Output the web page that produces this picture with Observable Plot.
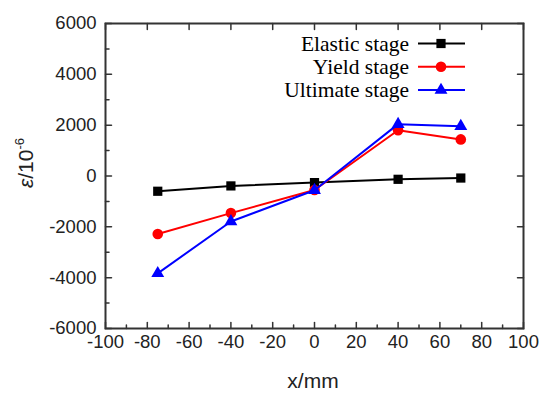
<!DOCTYPE html>
<html>
<head>
<meta charset="utf-8">
<script src="https://cdn.jsdelivr.net/npm/d3@7"></script>
<script src="https://cdn.jsdelivr.net/npm/@observablehq/plot@0.6"></script>
<style>
  html, body { margin: 0; padding: 0; background: #fff; }
  #chart { width: 550px; height: 396px; }
</style>
</head>
<body>
<div id="chart"></div>
<script>
// Data
const positions = [-75, -40, 0, 40, 70];
const elastic  = [-600, -390, -260, -130, -80];
const yieldS   = [-2280, -1460, -550, 1800, 1440];
const ultimate = [-3830, -1790, -560, 2040, 1960];
const seriesNames = ["Elastic stage", "Yield stage", "Ultimate stage"];
const seriesColors = ["#000000", "#ff0000", "#0000ff"];
const seriesSymbols = ["square", "circle", "triangle"];
const seriesRadius = [5.2, 5.3, 4.8];

const xMajor = d3.range(-100, 101, 20);
const xMinor = d3.range(-90, 100, 20);
const yMajor = d3.range(-6000, 6001, 2000);
const yMinor = d3.range(-5000, 6000, 2000);

const seriesValues = [elastic, yieldS, ultimate];
const rows = [];
seriesNames.forEach((name, i) => {
  positions.forEach((x, j) => rows.push({series: name, x, y: seriesValues[i][j]}));
});

const tickShape = {draw(context, l) { context.moveTo(0, 0); context.lineTo(0, -l); }};
const axisColor = "#333333";

function ticks(data, channel, anchor, rotate, length) {
  const opts = {frameAnchor: anchor, rotate, length, anchor: "start", shape: tickShape, stroke: axisColor, strokeWidth: 1.5};
  opts[channel] = d => d;
  return Plot.vector(data, opts);
}

const lineMarks = seriesNames.map((name, i) => {
  const data = rows.filter(r => r.series === name);
  return [
    Plot.line(data, {x: "x", y: "y", stroke: seriesColors[i], strokeWidth: 2}),
    Plot.dot(data, {x: "x", y: "y", symbol: seriesSymbols[i], r: seriesRadius[i], fill: seriesColors[i], stroke: "none"})
  ];
}).flat();

const plot = Plot.plot({
  width: 550,
  height: 396,
  marginLeft: 105,
  marginRight: 27,
  marginTop: 23,
  marginBottom: 68,
  style: {fontFamily: "'Liberation Sans', Arial, sans-serif", background: "#fff", overflow: "visible"},
  x: {domain: [-100, 100]},
  y: {domain: [-6000, 6000]},
  marks: [
    ...lineMarks,
    Plot.axisX(xMajor, {anchor: "bottom", tickSize: 0, tickPadding: 6, fontSize: 18.5, fill: "#222", label: null, tickFormat: d => String(d)}),
    Plot.axisY(yMajor, {anchor: "left", tickSize: 0, tickPadding: 9, fontSize: 18.5, fill: "#222", label: null, tickFormat: d => String(d)}),
    ticks(xMajor, "x", "bottom", 0, 6),
    ticks(xMinor, "x", "bottom", 0, 3.5),
    ticks(yMajor, "y", "left", 90, 6),
    ticks(yMinor, "y", "left", 90, 3.5),
    ticks(xMajor, "x", "top", 180, 6),
    ticks(yMajor, "y", "right", -90, 6),
    Plot.frame({stroke: axisColor, strokeWidth: 2})
  ]
});

document.getElementById("chart").appendChild(plot);

const svg = d3.select(plot);
// axis titles
svg.append("text")
  .attr("x", 313).attr("y", 388)
  .attr("text-anchor", "middle")
  .attr("font-family", "'Liberation Sans', Arial, sans-serif")
  .attr("font-size", 21).attr("fill", "#222")
  .text("x/mm");

const yl = svg.append("text")
  .attr("transform", "translate(33,163) rotate(-90)")
  .attr("text-anchor", "middle")
  .attr("font-family", "'Liberation Sans', Arial, sans-serif")
  .attr("font-size", 21).attr("fill", "#222");
yl.append("tspan").attr("font-style", "italic").text("ε");
yl.append("tspan").text("/10");
yl.append("tspan").attr("font-size", 13).attr("dy", -9).text("-6");

// legend
const lg = svg.append("g");
seriesNames.forEach((name, i) => {
  const yy = 43.5 + i * 23.3;
  lg.append("text")
    .attr("x", 409).attr("y", yy)
    .attr("dy", "0.33em")
    .attr("text-anchor", "end")
    .attr("font-family", "'Liberation Serif', 'Times New Roman', serif")
    .attr("font-size", 21.5).attr("fill", "#000")
    .text(name);
  lg.append("line")
    .attr("x1", 418).attr("x2", 465).attr("y1", yy).attr("y2", yy)
    .attr("stroke", seriesColors[i]).attr("stroke-width", 2);
  const sym = {square: d3.symbolSquare, circle: d3.symbolCircle, triangle: d3.symbolTriangle}[seriesSymbols[i]];
  lg.append("path")
    .attr("transform", `translate(441,${yy})`)
    .attr("d", d3.symbol(sym, Math.PI * seriesRadius[i] ** 2)())
    .attr("fill", seriesColors[i]);
});
</script>
</body>
</html>
